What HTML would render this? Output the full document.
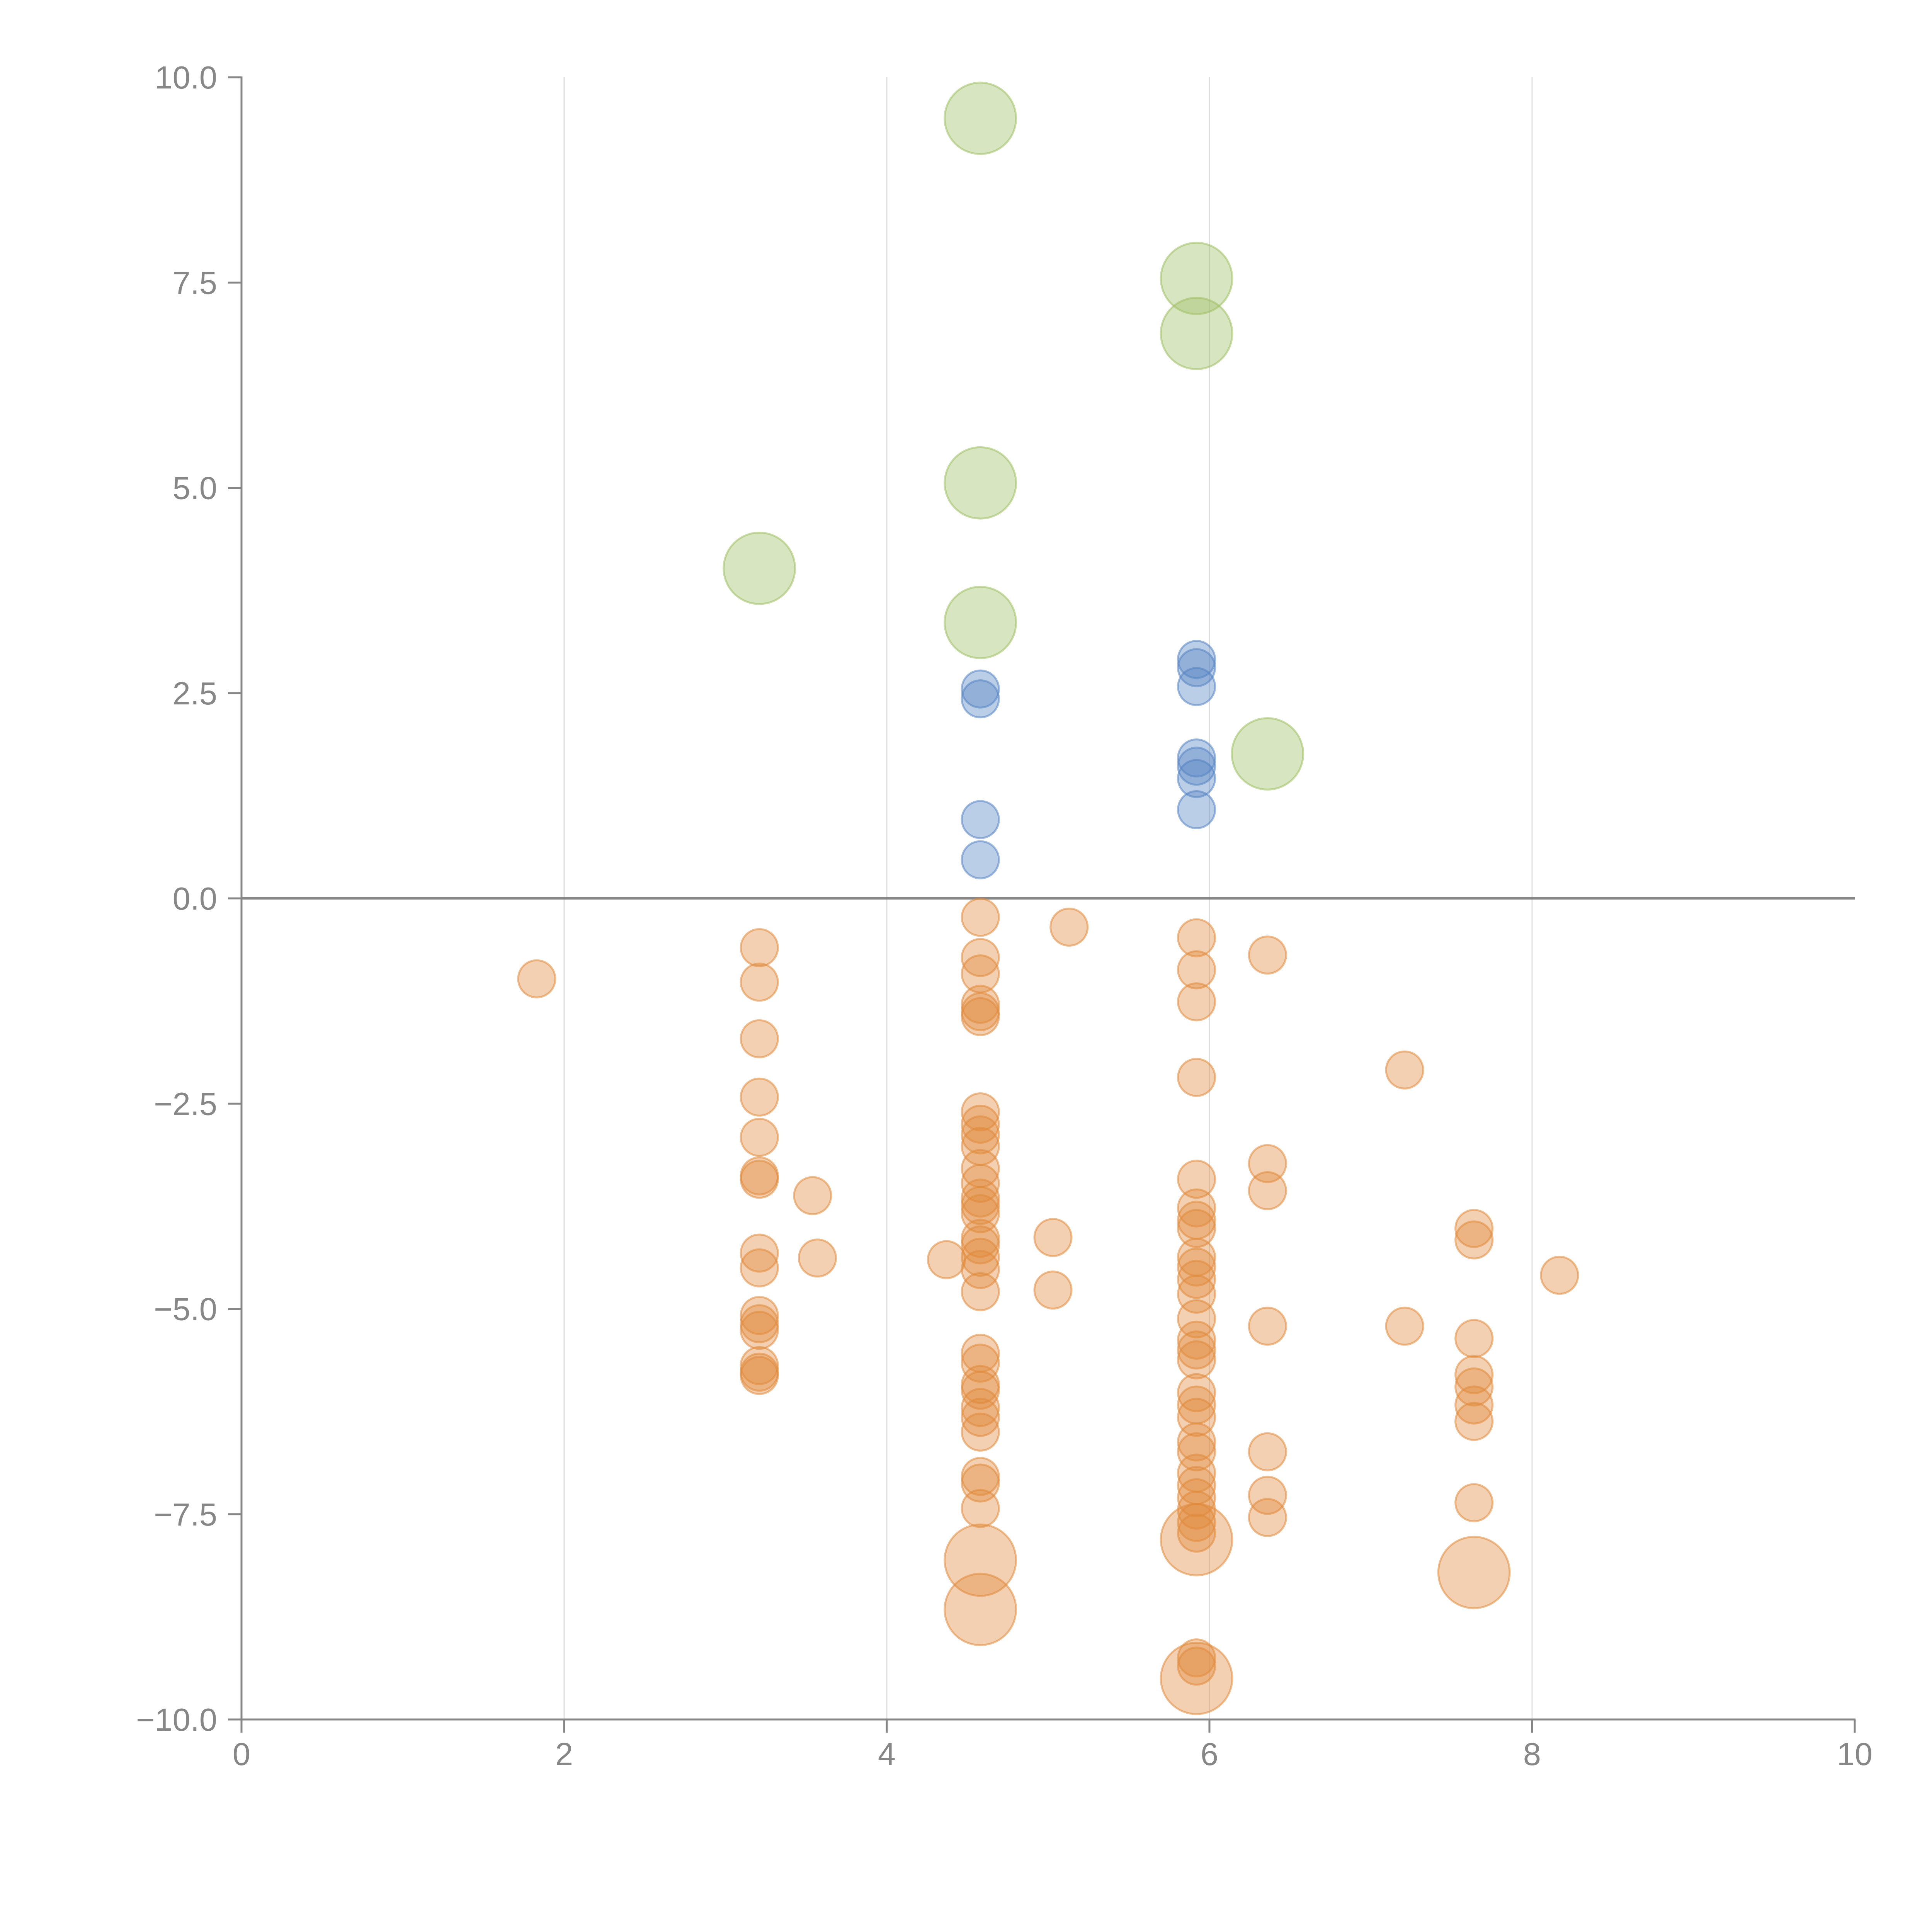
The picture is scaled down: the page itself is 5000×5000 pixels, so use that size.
<!DOCTYPE html>
<html><head><meta charset="utf-8"><style>
html,body{margin:0;padding:0;background:#fff;}
svg{display:block;}
text{font-family:"Liberation Sans",sans-serif;fill:#878787;font-size:83px;}
</style></head>
<body>
<svg id="chart" width="5000" height="5000" viewBox="0 0 5000 5000" xmlns="http://www.w3.org/2000/svg"></svg>
<script>
const xTicks = [0, 2, 4, 6, 8, 10];
const xTickLabels = ["0", "2", "4", "6", "8", "10"];
const yTicks = [10, 7.5, 5, 2.5, 0, -2.5, -5, -7.5, -10];
const yTickLabels = ["10.0", "7.5", "5.0", "2.5", "0.0", "\u22122.5", "\u22125.0", "\u22127.5", "\u221210.0"];

const orangeX = [1.83,
 3.21,3.21,3.21,3.21,3.21,3.21,3.21,3.21,3.21,3.21,3.21,3.21,3.21,3.21,3.21,
 3.54,3.57,4.37,
 4.58,4.58,4.58,4.58,4.58,4.58,4.58,4.58,4.58,4.58,4.58,4.58,4.58,4.58,4.58,4.58,4.58,4.58,4.58,4.58,4.58,4.58,4.58,4.58,4.58,4.58,4.58,4.58,4.58,4.58,4.58,4.58,
 5.03,5.03,5.13,
 5.92,5.92,5.92,5.92,5.92,5.92,5.92,5.92,5.92,5.92,5.92,5.92,5.92,5.92,5.92,5.92,5.92,5.92,5.92,5.92,5.92,5.92,5.92,5.92,5.92,5.92,5.92,5.92,5.92,5.92,5.92,
 6.36,6.36,6.36,6.36,6.36,6.36,6.36,
 7.21,7.21,
 7.64,7.64,7.64,7.64,7.64,7.64,7.64,7.64,7.64,
 8.17];
const orangeY = [-0.98,
 -0.60,-1.02,-1.71,-2.42,-2.91,-3.38,-3.42,-4.32,-4.50,-5.08,-5.18,-5.26,-5.69,-5.77,-5.81,
 -3.62,-4.38,-4.40,
 -0.23,-0.72,-0.92,-1.29,-1.38,-1.44,-2.60,-2.75,-2.88,-3.02,-3.29,-3.47,-3.65,-3.74,-3.84,-4.14,-4.22,-4.37,-4.52,-4.79,-5.54,-5.66,-5.92,-5.99,-6.20,-6.32,-6.50,-7.04,-7.12,-7.43,-8.06,-8.66,
 -4.13,-4.77,-0.35,
 -0.48,-0.87,-1.26,-2.18,-3.42,-3.77,-3.92,-4.02,-4.37,-4.49,-4.64,-4.82,-5.12,-5.38,-5.50,-5.62,-6.02,-6.17,-6.32,-6.62,-6.74,-7.00,-7.15,-7.30,-7.45,-7.60,-7.73,-9.25,-9.35,-7.81,-9.50,
 -0.69,-3.23,-3.56,-5.21,-6.74,-7.27,-7.54,
 -2.09,-5.21,
 -4.02,-4.16,-5.36,-5.80,-5.95,-6.17,-6.37,-7.36,-8.21,
 -4.59];
const orangeSize = [1,
 1,1,1,1,1,1,1,1,1,1,1,1,1,1,1,
 1,1,1,
 1,1,1,1,1,1,1,1,1,1,1,1,1,1,1,1,1,1,1,1,1,1,1,1,1,1,1,1,1,1,3.7,3.7,
 1,1,1,
 1,1,1,1,1,1,1,1,1,1,1,1,1,1,1,1,1,1,1,1,1,1,1,1,1,1,1,1,1,3.7,3.7,
 1,1,1,1,1,1,1,
 1,1,
 1,1,1,1,1,1,1,1,3.7,
 1];

const blueX = [4.58,4.58,4.58,4.58,5.92,5.92,5.92,5.92,5.92,5.92,5.92];
const blueY = [2.55,2.43,0.96,0.47,2.91,2.81,2.58,1.71,1.61,1.46,1.08];
const blueSize = [1,1,1,1,1,1,1,1,1,1,1];

const greenX = [4.58,5.92,5.92,4.58,3.21,4.58,6.36];
const greenY = [9.50,7.55,6.88,5.06,4.02,3.36,1.76];
const greenSize = [3.7,3.7,3.7,3.7,3.7,3.7,3.7];

const NS = "http://www.w3.org/2000/svg";
const svg = document.getElementById("chart");
const X0 = 625, X1 = 4800, Y0 = 4450, Y1 = 200;
function sx(v){ return X0 + (v - 0) / 10 * (X1 - X0); }
function sy(v){ return Y0 - (v + 10) / 20 * (Y0 - Y1); }
function sr(s){ return 48 * Math.sqrt(s); }
function mk(tag, attrs){ const e = document.createElementNS(NS, tag); for (const k in attrs) e.setAttribute(k, attrs[k]); svg.appendChild(e); return e; }

// gridlines
for (let i = 1; i < xTicks.length - 1; i++) {
  const g = mk("line", {x1: sx(xTicks[i]), x2: sx(xTicks[i]), y1: Y1, y2: Y0, stroke: "#dcdcdc", "stroke-width": 3});
  
  
}
// zero line
const z = mk("line", {x1: X0, x2: X1, y1: sy(0), y2: sy(0), stroke: "#878787", "stroke-width": 6});



// axes
const ya = mk("line", {x1: X0, x2: X0, y1: Y1 - 2, y2: Y0 + 2, stroke: "#878787", "stroke-width": 5});


const xa = mk("line", {x1: X0 - 2, x2: X1 + 2, y1: Y0, y2: Y0, stroke: "#878787", "stroke-width": 5});



for (let i = 0; i < yTicks.length; i++) {
  const y = sy(yTicks[i]);
  const t = mk("line", {x1: X0 - 35, x2: X0, y1: y, y2: y, stroke: "#878787", "stroke-width": 5});
  
  
  const l = mk("text", {x: X0 - 63, y: y + 29, "text-anchor": "end"});
  l.textContent = yTickLabels[i];
  
  
}
for (let i = 0; i < xTicks.length; i++) {
  const x = sx(xTicks[i]);
  const t = mk("line", {x1: x, x2: x, y1: Y0, y2: Y0 + 34, stroke: "#878787", "stroke-width": 5});
  
  
  const l = mk("text", {x: x, y: Y0 + 118, "text-anchor": "middle"});
  l.textContent = xTickLabels[i];
  
  
}

function drawSeries(xs, ys, ss, color, name){
  for (let i = 0; i < xs.length; i++) {
    const c = mk("circle", {cx: sx(xs[i]), cy: sy(ys[i]), r: sr(ss[i]), fill: color, "fill-opacity": 0.4, stroke: color, "stroke-opacity": 0.55, "stroke-width": 5});
    
    
  }
}
drawSeries(orangeX, orangeY, orangeSize, "#e08a3c", "orange-bubble");
drawSeries(blueX, blueY, blueSize, "#5584c2", "blue-bubble");
drawSeries(greenX, greenY, greenSize, "#9ebf63", "green-bubble");
</script>
</body></html>
